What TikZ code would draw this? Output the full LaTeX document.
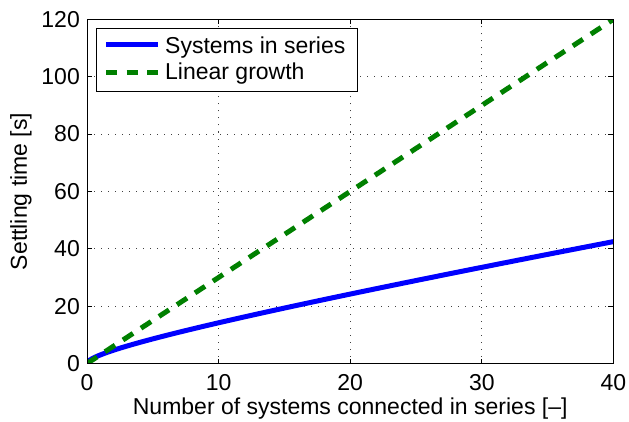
\documentclass[tikz,border=0pt]{standalone}
\usepackage{fontspec}
\setmainfont{Liberation Sans}
\definecolor{plotblue}{rgb}{0,0,1}
\definecolor{plotgreen}{rgb}{0,0.5,0}

\begin{document}
\begin{tikzpicture}[x=13.16pt, y=2.868pt,
    font=\fontsize{23}{27}\selectfont,
    series/.style={plotblue, line width=5pt},
    linear/.style={plotgreen, line width=5pt, dash pattern=on 12pt off 9.5pt},
    gridline/.style={black!75, line width=0.8pt, dash pattern=on 1pt off 6pt},
    axtick/.style={line width=1pt}]
    \useasboundingbox (-87pt,-57.5pt) rectangle (542pt,363.5pt);

    % Draw grid
    \foreach \x in {10,20,30}
        \draw[gridline] (\x,0) -- (\x,120);
    \foreach \y in {20,40,...,100}
        \draw[gridline] (0,\y) -- (40,\y);

    % Draw the curves
    \begin{scope}
        \clip (0,0) rectangle (40,120);
        % Systems in series
        \draw[series, domain=0:40, samples=200] plot (\x, {0.705*\x + 2.26*sqrt(\x)});
        % Linear growth y = 3x
        \draw[linear] (0,0) -- (40,120);
    \end{scope}

    % Draw axes box with ticks on all sides
    \draw[axtick] (0,0) rectangle (40,120);
    \foreach \x in {0,10,...,40} {
        \draw[axtick] (\x,0) -- ++(0,5pt);
        \draw[axtick] (\x,120) -- ++(0,-5pt);
        \node[anchor=base, inner sep=0] (xt\x) at (\x,-26.5pt) {\x};
    }
    \foreach \y in {0,20,...,120} {
        \draw[axtick] (0,\y) -- ++(5pt,0);
        \draw[axtick] (40,\y) -- ++(-5pt,0);
        \node[anchor=east, inner sep=0] (yt\y) at (-7pt,\y) {\y};
    }

    % Axis labels
    \node[anchor=base, inner sep=0] (xlabel) at (20,-50.5pt) {Number of systems connected in series [–]};
    \node[anchor=base, inner sep=0, rotate=90] (ylabel) at (-60pt,60) {Settling time [s]};

    % Legend
    \node[draw, fill=white, line width=1pt, anchor=north west, inner sep=0,
          minimum width=261pt, minimum height=62.7pt] (legend) at (9pt,335.2pt) {};
    \draw[series] ([xshift=10pt,yshift=-16.2pt]legend.north west) -- ++(52pt,0);
    \draw[linear, dash pattern=on 11pt off 9.5pt] ([xshift=10pt,yshift=-44.2pt]legend.north west) -- ++(52pt,0);
    \node[anchor=base west, inner sep=0] (legseries) at ([xshift=69pt,yshift=-25pt]legend.north west) {Systems in series};
    \node[anchor=base west, inner sep=0] (leglinear) at ([xshift=69pt,yshift=-51.7pt]legend.north west) {Linear growth};
\end{tikzpicture}
\end{document}
